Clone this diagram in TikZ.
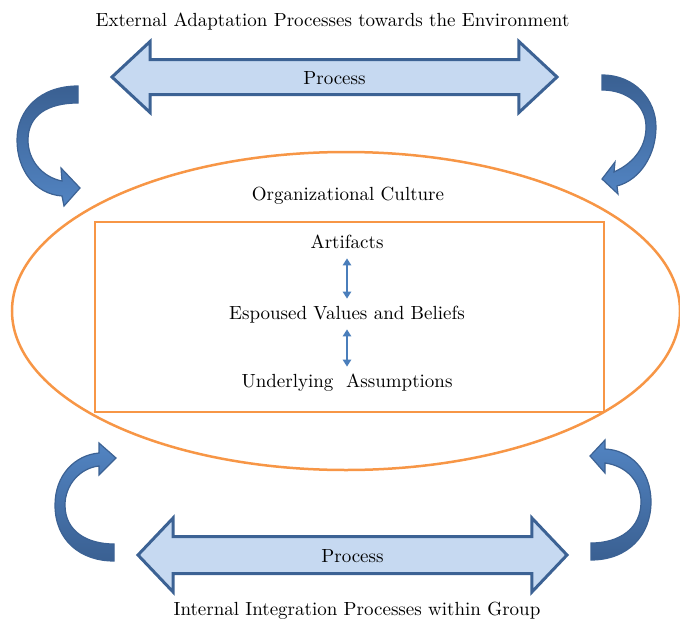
\documentclass[tikz,border=0pt]{standalone}
\usepackage{tikz}
\definecolor{flowfill}{RGB}{198,217,241}
\definecolor{flowedge}{RGB}{60,98,148}
\definecolor{bendlight}{RGB}{82,132,194}
\definecolor{benddark}{RGB}{58,96,146}
\definecolor{cultureorange}{RGB}{247,150,70}
\definecolor{layerblue}{RGB}{74,126,187}
\usetikzlibrary{shapes.arrows, arrows.meta, positioning}

\begin{document}
\begin{tikzpicture}[
    x=0.5pt, y=-0.5pt,
    every node/.style={font=\fontsize{9.5}{11}\selectfont},
    caption/.style={inner sep=2pt},
    flow/.style={double arrow, draw=flowedge, fill=flowfill, line width=1.5pt,
                 double arrow head indent=0pt, text height=7pt, text depth=0pt},
    layer/.style={inner sep=3pt, text height=7pt, text depth=2pt},
    layerlink/.style={draw=layerblue, line width=0.8pt,
                      {Triangle[length=3.5pt,width=4.2pt]}-{Triangle[length=3.5pt,width=4.2pt]}},
    bendarrow/.style={draw=flowedge, line width=0.6pt}
]
\useasboundingbox (0,0) rectangle (680,621);

% culture ellipse and the three levels
\draw[cultureorange, line width=1.25pt] (346,311) ellipse [x radius=167pt, y radius=79.5pt];
\node (culture) at (348,196) {Organizational Culture};
\node[draw=cultureorange, line width=1.25pt, minimum width=254.5pt,
      minimum height=95pt] (levels) at (349.5,317) {};
\node[layer] (artifacts) at (347,243) {Artifacts};
\node[layer] (values) at (347,314) {Espoused Values and Beliefs};
\node[layer] (assumptions) at (347,382) {Underlying~ Assumptions};
\draw[layerlink] (artifacts) -- (values);
\draw[layerlink] (values) -- (assumptions);

% external and internal processes
\node[caption] (external) at (332.5,22) {External Adaptation Processes towards the Environment};
\node[flow, inner ysep=4.5pt, minimum height=222.5pt, minimum width=34pt,
      double arrow head extend=9pt, double arrow tip angle=86] (extflow) at (334.5,77) {Process};
\node[flow, inner ysep=5pt, minimum height=214.5pt, minimum width=35.5pt,
      double arrow head extend=9.25pt, double arrow tip angle=93] (intflow) at (352.5,555) {Process};
\node[caption] (internal) at (357,611) {Internal Integration Processes within Group};

% curved arrows round the ellipse
\path[bendarrow, top color=benddark, bottom color=bendlight]
  (78,86) .. controls (40,86) and (17,110) .. (17,140)
  .. controls (17,170) and (35,194) .. (62,196)
  -- (64,206) -- (80,188) -- (61,168) -- (62,181)
  .. controls (42,177) and (28,160) .. (28,140)
  .. controls (28,115) and (48,103) .. (78,103) -- cycle;
\path[bendarrow, top color=benddark, bottom color=bendlight]
  (602,75) .. controls (635,75) and (656,100) .. (656,127)
  .. controls (656,155) and (640,180) .. (617,186)
  -- (618,194) -- (602,179) -- (615,162) -- (614,172)
  .. controls (636,162) and (646,145) .. (646,127)
  .. controls (646,105) and (627,90) .. (602,90) -- cycle;
\path[bendarrow, top color=bendlight, bottom color=benddark]
  (114,561) .. controls (80,561) and (55,540) .. (55,505)
  .. controls (55,475) and (75,455) .. (99,453)
  -- (99,443) -- (116,458) -- (99,475) -- (99,466)
  .. controls (80,468) and (65,485) .. (65,505)
  .. controls (65,532) and (88,544) .. (114,544) -- cycle;
\path[bendarrow, top color=bendlight, bottom color=benddark]
  (591,560) .. controls (628,560) and (651,535) .. (651,502)
  .. controls (651,470) and (630,450) .. (605,449)
  -- (605,440) -- (590,456) -- (605,473) -- (605,463)
  .. controls (627,466) and (641,482) .. (641,502)
  .. controls (641,528) and (620,543) .. (591,543) -- cycle;
\end{tikzpicture}
\end{document}
